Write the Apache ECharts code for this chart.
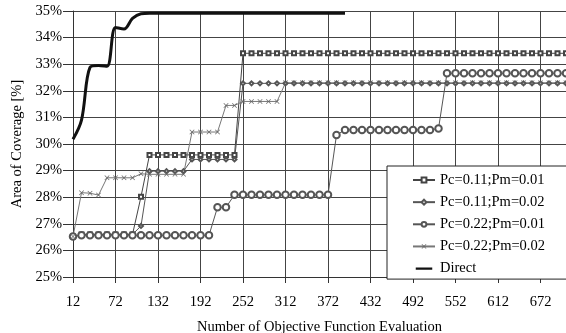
<!DOCTYPE html>
<html>
<head>
<meta charset="utf-8">
<script src="https://cdn.jsdelivr.net/npm/echarts@6/dist/echarts.min.js"></script>
<style>html,body{margin:0;padding:0;background:#fff;}#c{width:566px;height:333px;}</style>
</head>
<body>
<div id="c"></div>
<script>
var categories = [12,24,36,48,60,72,84,96,108,120,132,144,156,168,180,192,204,216,228,240,252,264,276,288,300,312,324,336,348,360,372,384,396,408,420,432,444,456,468,480,492,504,516,528,540,552,564,576,588,600,612,624,636,648,660,672,684,696,708];
var seriesNames = ['Pc=0.11;Pm=0.01','Pc=0.11;Pm=0.02','Pc=0.22;Pm=0.01','Pc=0.22;Pm=0.02','Direct'];
var pc011pm001 = [26.52,26.6,26.6,26.6,26.6,26.6,26.6,26.6,28.02,29.59,29.59,29.59,29.59,29.59,29.59,29.59,29.59,29.59,29.59,29.59,33.41,33.41,33.41,33.41,33.41,33.41,33.41,33.41,33.41,33.41,33.41,33.41,33.41,33.41,33.41,33.41,33.41,33.41,33.41,33.41,33.41,33.41,33.41,33.41,33.41,33.41,33.41,33.41,33.41,33.41,33.41,33.41,33.41,33.41,33.41,33.41,33.41,33.41,33.41];
var pc011pm002 = [26.52,26.6,26.6,26.6,26.6,26.6,26.6,26.6,26.92,28.98,28.98,28.98,28.98,28.98,29.42,29.42,29.42,29.42,29.42,29.42,32.28,32.28,32.28,32.28,32.28,32.28,32.28,32.28,32.28,32.28,32.28,32.28,32.28,32.28,32.28,32.28,32.28,32.28,32.28,32.28,32.28,32.28,32.28,32.28,32.28,32.28,32.28,32.28,32.28,32.28,32.28,32.28,32.28,32.28,32.28,32.28,32.28,32.28,32.28];
var pc022pm001 = [26.52,26.57,26.57,26.57,26.57,26.57,26.57,26.57,26.57,26.57,26.57,26.57,26.57,26.57,26.57,26.57,26.57,27.62,27.62,28.09,28.09,28.09,28.09,28.09,28.09,28.09,28.09,28.09,28.09,28.09,28.09,30.34,30.53,30.53,30.53,30.53,30.53,30.53,30.53,30.53,30.53,30.53,30.53,30.58,32.66,32.66,32.66,32.66,32.66,32.66,32.66,32.66,32.66,32.66,32.66,32.66,32.66,32.66,32.66];
var pc022pm002 = [26.52,28.17,28.15,28.08,28.73,28.73,28.73,28.73,28.88,28.86,28.86,28.86,28.86,28.86,30.45,30.45,30.45,30.45,31.45,31.45,31.6,31.6,31.6,31.6,31.6,32.3,32.3,32.3,32.3,32.3,32.3,32.3,32.3,32.3,32.3,32.3,32.3,32.3,32.3,32.3,32.3,32.3,32.3,32.3,32.3,32.3,32.3,32.3,32.3,32.3,32.3,32.3,32.3,32.3,32.3,32.3,32.3,32.3,32.3];
var direct = [30.18,30.9,32.88,32.95,32.92,34.38,34.32,34.72,34.9,34.92,34.92,34.92,34.92,34.92,34.92,34.92,34.92,34.92,34.92,34.92,34.92,34.92,34.92,34.92,34.92,34.92,34.92,34.92,34.92,34.92,34.92,34.92,34.92];
var yTicks = {min: 25, max: 35, step: 1};

var FONT = 'Liberation Serif';
var FS = 14.5;
var xSym = 'path://M0,1L1,0L5,4L9,0L10,1L6,5L10,9L9,10L5,6L1,10L0,9L4,5Z';
var directIcon = 'path://M0,0H0.05V0.05H0Z M0,2.6H22V5.4H0Z M21.95,7.95H22V8H21.95Z';

var chart = echarts.init(document.getElementById('c'), null, {renderer: 'canvas'});
chart.setOption({
  animation: false,
  backgroundColor: '#fff',
  textStyle: {fontFamily: FONT},
  grid: {left: 73, right: 0, top: 11, bottom: 56, containLabel: false, outerBoundsMode: 'none'},
  legend: {
    orient: 'vertical',
    left: 387, top: 166,
    padding: [6.5, 40, 3, 25],
    itemGap: 7.15,
    itemWidth: 22,
    itemHeight: 6,
    backgroundColor: '#fff',
    borderColor: '#222',
    borderWidth: 1,
    borderRadius: 0,
    data: [seriesNames[0], seriesNames[1], seriesNames[2], seriesNames[3],
           {name: seriesNames[4], icon: directIcon, itemStyle: {color: '#111'}}],
    textStyle: {fontFamily: FONT, fontSize: FS, color: '#000', lineHeight: 14}
  },
  xAxis: {
    type: 'category',
    data: categories,
    boundaryGap: false,
    name: 'Number of Objective Function Evaluation',
    nameLocation: 'middle',
    nameGap: 43,
    nameTextStyle: {fontFamily: FONT, fontSize: FS, color: '#000'},
    axisLine: {lineStyle: {color: '#333', width: 1}},
    axisTick: {interval: 4, length: 6, lineStyle: {color: '#333'}},
    axisLabel: {interval: 4, margin: 18, fontFamily: FONT, fontSize: FS, color: '#000'},
    splitLine: {show: true, interval: 4, lineStyle: {color: '#444', width: 1}}
  },
  yAxis: {
    type: 'value',
    min: yTicks.min, max: yTicks.max, interval: yTicks.step,
    name: 'Area of Coverage [%]',
    nameLocation: 'middle',
    nameGap: 47,
    nameTextStyle: {fontFamily: FONT, fontSize: FS, color: '#000'},
    axisLine: {show: true, lineStyle: {color: '#333', width: 1}},
    axisTick: {show: true, length: 10, lineStyle: {color: '#333'}},
    axisLabel: {formatter: '{value}%', margin: 11, fontFamily: FONT, fontSize: FS, color: '#000'},
    splitLine: {show: true, lineStyle: {color: '#444', width: 1}}
  },
  series: [
    {name: seriesNames[0], type: 'line', data: pc011pm001, symbol: 'emptyRect', symbolSize: 4, showAllSymbol: true,
     lineStyle: {color: '#444', width: 1}, itemStyle: {color: '#444', borderWidth: 1}, z: 3},
    {name: seriesNames[1], type: 'line', data: pc011pm002, symbol: 'emptyDiamond', symbolSize: 4, showAllSymbol: true,
     lineStyle: {color: '#555', width: 1}, itemStyle: {color: '#555', borderWidth: 0.8}, z: 3},
    {name: seriesNames[2], type: 'line', data: pc022pm001, symbol: 'emptyCircle', symbolSize: 6.5, showAllSymbol: true,
     lineStyle: {color: '#555', width: 1}, itemStyle: {color: '#555', borderWidth: 0.8}, z: 3},
    {name: seriesNames[3], type: 'line', data: pc022pm002, symbol: xSym, symbolSize: 5, showAllSymbol: true,
     lineStyle: {color: '#777', width: 1}, itemStyle: {color: '#666'}, z: 3},
    {name: seriesNames[4], type: 'line', data: direct, symbol: 'none', smooth: 0.35,
     lineStyle: {color: '#111', width: 3}, itemStyle: {color: '#111'}, z: 4}
  ]
});
</script>
</body>
</html>
